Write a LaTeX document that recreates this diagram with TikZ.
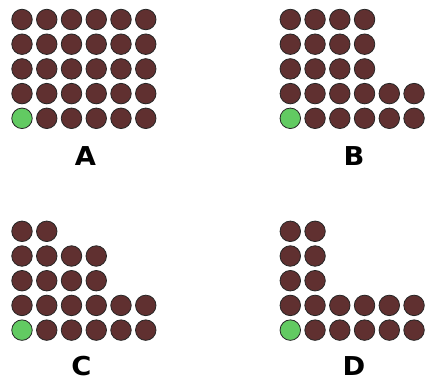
\documentclass[tikz,border=0pt]{standalone}
\usepackage{fontspec}
\setsansfont{DejaVu Sans}
\definecolor{brownc}{RGB}{96,48,48}
\definecolor{greenc}{RGB}{98,202,98}
\newcommand\dotgrid[4]{%
  \foreach \r/\n in {#4} {%
    \foreach \c in {1,...,\n} {%
      \ifnum\r\c=41 \def\st{start}\else\def\st{dot}\fi
      \node[\st] (#1-\r-\c) at ({#2+(\c-1)*24.75},{#3+\r*24.7}) {};
    }%
  }%
}
\begin{document}
\begin{tikzpicture}[x=1pt,y=-1pt,
  dot/.style={circle,draw=black!85,line width=0.8pt,fill=brownc,minimum size=20.5pt,inner sep=0pt},
  start/.style={dot,fill=greenc},
  lbl/.style={font=\sffamily\bfseries\fontsize{26}{26}\selectfont,inner sep=0pt,xscale=1.05}]
\useasboundingbox (0,0) rectangle (428,381);
\dotgrid{A}{22}{19.5}{0/6,1/6,2/6,3/6,4/6}
\dotgrid{B}{290.3}{19.5}{0/4,1/4,2/4,3/6,4/6}
\dotgrid{C}{22}{231.3}{0/2,1/4,2/4,3/6,4/6}
\dotgrid{D}{290.3}{231.3}{0/2,1/2,2/2,3/6,4/6}
\node[lbl] (la) at (85.5,156.5) {A};
\node[lbl] (lb) at (354,156.5) {B};
\node[lbl] (lc) at (81.5,366.5) {C};
\node[lbl] (ld) at (354,366.5) {D};
\end{tikzpicture}
\end{document}
